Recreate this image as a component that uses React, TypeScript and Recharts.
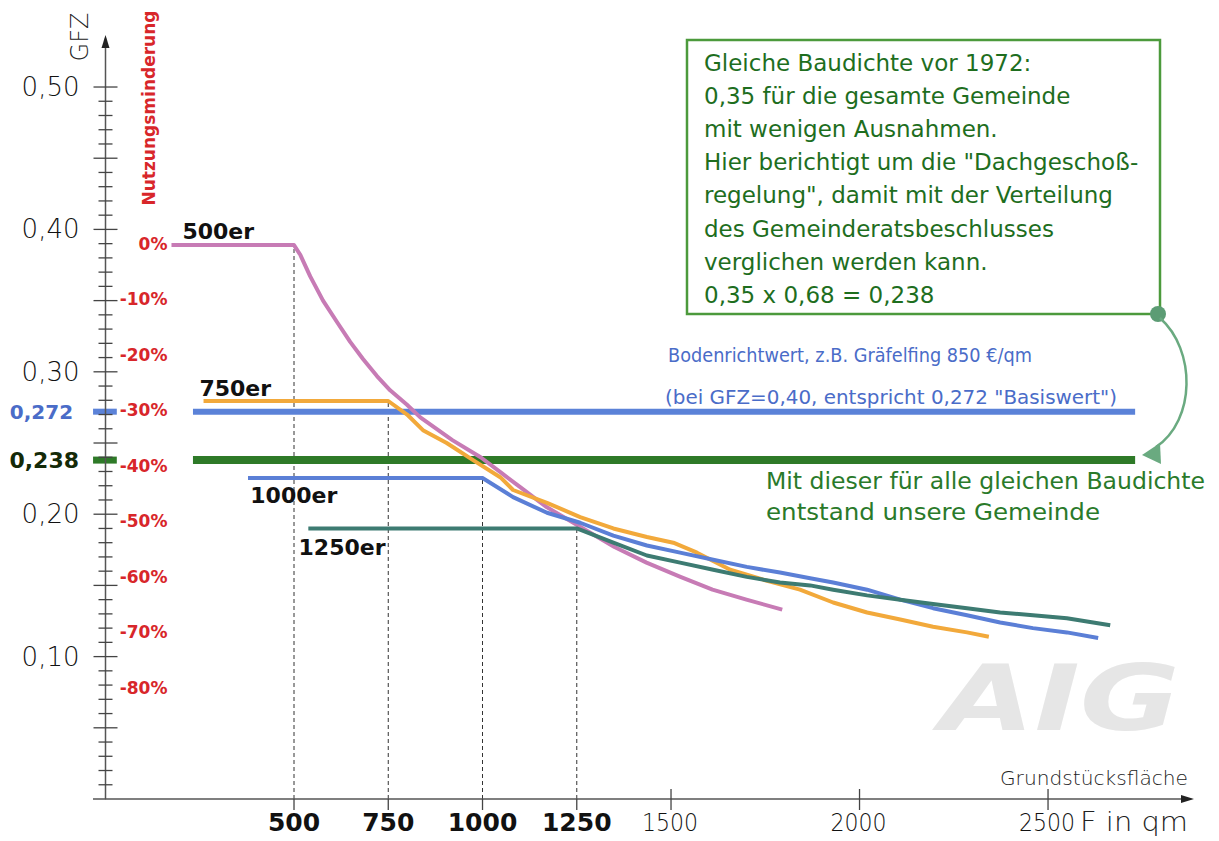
import React from 'react';
import { ComposedChart, Line, XAxis, YAxis, ReferenceLine, ReferenceDot } from 'recharts';

const FONT = '"DejaVu Sans", sans-serif';
const W = 1219;
const H = 841;

// Grundstücksfläche in qm / GFZ der einzelnen Kurven
const qm500 = [175, 500, 517, 543, 577, 614, 649, 683, 720, 755, 799, 835, 920, 995, 1050, 1100, 1170, 1260, 1350, 1435, 1525, 1610, 1700, 1795];
const gfz500 = [0.389, 0.389, 0.382, 0.367, 0.35, 0.335, 0.321, 0.309, 0.297, 0.287, 0.277, 0.268, 0.252, 0.24, 0.229, 0.219, 0.205, 0.191, 0.177, 0.166, 0.156, 0.147, 0.14, 0.133];

const qm750 = [260, 750, 800, 842, 905, 975, 1047, 1081, 1171, 1259, 1347, 1436, 1506, 1569, 1657, 1745, 1842, 1930, 2020, 2108, 2195, 2285, 2343];
const gfz750 = [0.2795, 0.2795, 0.27, 0.259, 0.25, 0.238, 0.226, 0.217, 0.208, 0.198, 0.19, 0.184, 0.18, 0.173, 0.161, 0.154, 0.147, 0.138, 0.131, 0.126, 0.121, 0.117, 0.114];

const qm1000 = [378, 1000, 1081, 1171, 1259, 1347, 1436, 1524, 1612, 1701, 1789, 1869, 1930, 2020, 2108, 2195, 2285, 2373, 2460, 2550, 2633];
const gfz1000 = [0.2254, 0.2254, 0.212, 0.201, 0.194, 0.185, 0.178, 0.173, 0.168, 0.163, 0.159, 0.155, 0.152, 0.147, 0.14, 0.134, 0.129, 0.124, 0.12, 0.117, 0.113];

const qm1250 = [538, 1250, 1347, 1436, 1524, 1612, 1701, 1789, 1869, 1930, 2020, 2108, 2195, 2285, 2373, 2460, 2550, 2665];
const gfz1250 = [0.19, 0.19, 0.18, 0.171, 0.166, 0.161, 0.156, 0.152, 0.15, 0.147, 0.143, 0.14, 0.137, 0.134, 0.131, 0.129, 0.127, 0.122];

// Bodenrichtwert-Basis und einheitliche Baudichte
const basisGfz = 0.272;
const gemeindeGfz = 0.238;
const levelQm = [232, 2731];

// Achsen
const xTicks = [500, 750, 1000, 1250, 1500, 2000, 2500];
const xBoldTicks = [500, 750, 1000, 1250];
const gfzTicks = [
  0.01, 0.02, 0.03, 0.04, 0.05, 0.06, 0.07, 0.08, 0.09, 0.1,
  0.11, 0.12, 0.13, 0.14, 0.15, 0.16, 0.17, 0.18, 0.19, 0.2,
  0.21, 0.22, 0.23, 0.24, 0.25, 0.26, 0.27, 0.28, 0.29, 0.3,
  0.31, 0.32, 0.33, 0.34, 0.35, 0.36, 0.37, 0.38, 0.39, 0.4,
  0.41, 0.42, 0.43, 0.44, 0.45, 0.46, 0.47, 0.48, 0.49, 0.5,
];
// Nutzungsminderung bezogen auf GFZ 0,39 (0%)
const pctBase = 0.39;
const pctTicks = [0, -10, -20, -30, -40, -50, -60, -70, -80];

const boxLines = [
  'Gleiche Baudichte vor 1972:',
  '0,35 für die gesamte Gemeinde',
  'mit wenigen Ausnahmen.',
  'Hier berichtigt um die "Dachgeschoß-',
  'regelung", damit mit der Verteilung',
  'des Gemeinderatsbeschlusses',
  'verglichen werden kann.',
  '0,35 x 0,68 = 0,238',
];

const toPoints = (xs: number[], ys: number[]) => xs.map((qm, i) => ({ qm, gfz: ys[i] }));

const series = [
  { key: '500er', qm: qm500, gfz: gfz500, color: '#c77bb5', labelQm: 204, dy: -6 },
  { key: '750er', qm: qm750, gfz: gfz750, color: '#f2a93b', labelQm: 249, dy: -5 },
  { key: '1000er', qm: qm1000, gfz: gfz1000, color: '#5b7fd6', labelQm: 384, dy: 25 },
  { key: '1250er', qm: qm1250, gfz: gfz1250, color: '#3d7b72', labelQm: 512, dy: 27 },
];

const GfzTick = (props: any) => {
  const { x, y, payload } = props;
  const v = Math.round(payload.value * 100);
  const major = v % 5 === 0;
  const half = major ? 12 : 7;
  return (
    <g>
      <line x1={x - half} x2={x + half} y1={y} y2={y} stroke="#444" strokeWidth={1.3} />
      {v % 10 === 0 && (
        <text x={x - 26} y={y} textAnchor="end" dominantBaseline="central" fontFamily={FONT} fontSize={26} fontWeight={200} fill="#111">
          {payload.value.toFixed(2).replace('.', ',')}
        </text>
      )}
    </g>
  );
};

const QmTick = (props: any) => {
  const { x, y, payload } = props;
  const bold = xBoldTicks.includes(payload.value);
  return (
    <g>
      <line x1={x} x2={x} y1={bold ? y : y - 10} y2={y + 11} stroke="#444" strokeWidth={1.3} />
      <text
        x={bold ? x : x - 1}
        y={y + 32}
        textAnchor="middle"
        fontFamily={FONT}
        fontSize={bold ? 25 : 24}
        fontWeight={bold ? 'bold' : 200}
        fill="#111"
        textLength={bold ? undefined : 56}
        lengthAdjust="spacingAndGlyphs"
      >
        {payload.value}
      </text>
    </g>
  );
};

export default function App() {
  return (
    <div style={{ position: 'absolute', left: 0, top: 0, width: W, height: H, background: '#fff' }}>
      <ComposedChart width={W} height={H} margin={{ top: 38.6, right: 27.7, left: 0, bottom: 0 }}>
        <XAxis
          dataKey="qm"
          type="number"
          domain={[0, 2880]}
          allowDataOverflow
          ticks={xTicks}
          interval={0}
          height={42}
          tickSize={0}
          tickMargin={0}
          tickLine={false}
          axisLine={{ stroke: '#555', strokeWidth: 1.5 }}
          tick={<QmTick />}
        />
        <YAxis
          type="number"
          domain={[0, 0.534]}
          allowDataOverflow
          ticks={gfzTicks}
          interval={0}
          width={105.5}
          tickSize={0}
          tickMargin={0}
          tickLine={false}
          axisLine={{ stroke: '#555', strokeWidth: 1.5 }}
          tick={<GfzTick />}
        />

        {xBoldTicks.map((q, i) => (
          <ReferenceLine
            key={q}
            segment={[{ x: q, y: 0 }, { x: q, y: series[i].gfz[1] }]}
            stroke="#333"
            strokeWidth={1}
            strokeDasharray="4 3"
          />
        ))}

        {pctTicks.map((p) => (
          <ReferenceLine
            key={p}
            y={pctBase * (1 + p / 100)}
            stroke="none"
            label={(lp: any) => (
              <text x={lp.viewBox.x + 62} y={lp.viewBox.y} textAnchor="end" dominantBaseline="central" fontFamily={FONT} fontSize={17} fontWeight="bold" fill="#d8262a">
                {p}%
              </text>
            )}
          />
        ))}

        <ReferenceLine
          segment={[{ x: -33, y: basisGfz }, { x: 30, y: basisGfz }]}
          ifOverflow="visible"
          stroke="#5b82d8"
          strokeWidth={6}
          label={(lp: any) => (
            <text x={lp.viewBox.x - 20} y={lp.viewBox.y} textAnchor="end" dominantBaseline="central" fontFamily={FONT} fontSize={20} fontWeight="bold" fill="#4a6cc8">
              0,272
            </text>
          )}
        />
        <ReferenceLine
          segment={[{ x: -33, y: gemeindeGfz }, { x: 30, y: gemeindeGfz }]}
          ifOverflow="visible"
          stroke="#2e7a28"
          strokeWidth={7}
          label={(lp: any) => (
            <text x={lp.viewBox.x - 14} y={lp.viewBox.y} textAnchor="end" dominantBaseline="central" fontFamily={FONT} fontSize={22} fontWeight="bold" fill="#142a08">
              0,238
            </text>
          )}
        />

        <Line
          data={levelQm.map((qm) => ({ qm, gfz: basisGfz }))}
          dataKey="gfz"
          stroke="#5b82d8"
          strokeWidth={6}
          dot={false}
          isAnimationActive={false}
        />
        <Line
          data={levelQm.map((qm) => ({ qm, gfz: gemeindeGfz }))}
          dataKey="gfz"
          stroke="#2e7a28"
          strokeWidth={8}
          dot={false}
          isAnimationActive={false}
        />

        {series.map((s) => (
          <Line
            key={s.key}
            data={toPoints(s.qm, s.gfz)}
            dataKey="gfz"
            name={s.key}
            type="linear"
            stroke={s.color}
            strokeWidth={4}
            strokeLinejoin="round"
            dot={false}
            isAnimationActive={false}
          />
        ))}

        {series.map((s) => (
          <ReferenceDot
            key={s.key}
            x={s.labelQm}
            y={s.gfz[0]}
            r={0}
            fill="none"
            stroke="none"
            label={(lp: any) => (
              <text x={lp.viewBox.x} y={lp.viewBox.y + s.dy} fontFamily={FONT} fontSize={22} fontWeight="bold" fill="#111">
                {s.key}
              </text>
            )}
          />
        ))}
      </ComposedChart>

      <svg width={W} height={H} style={{ position: 'absolute', left: 0, top: 0, pointerEvents: 'none' }}>
        <line x1={93} y1={799} x2={106} y2={799} stroke="#555" strokeWidth={1.5} />
        <polygon points="105.5,35 101.5,48 109.5,48" fill="#222" />
        <polygon points="1194,799 1181,795 1181,803" fill="#222" />

        <text transform="translate(88,37) rotate(-90)" textAnchor="middle" fontFamily={FONT} fontSize={24} fontWeight={200} fill="#222">
          GFZ
        </text>
        <text transform="translate(155,108) rotate(-90)" textAnchor="middle" fontFamily={FONT} fontSize={18} fontWeight="bold" fill="#d8262a" textLength={195} lengthAdjust="spacingAndGlyphs">
          Nutzungsminderung
        </text>

        <rect x={687} y={40} width={473} height={274} fill="none" stroke="#4c9a3c" strokeWidth={2.5} />
        {boxLines.map((t, i) => (
          <text key={i} x={704} y={71 + i * 33.1} fontFamily={FONT} fontSize={23} fill="#1e6e1e">
            {t}
          </text>
        ))}
        <circle cx={1158} cy={314} r={8} fill="#5c9c74" />
        <path d="M1160,318 C1196,350 1196,420 1156,447" fill="none" stroke="#6aaa80" strokeWidth={2.5} />
        <polygon points="1142,455 1160,443 1161,464" fill="#6aaa80" />

        <text x={668} y={362} fontFamily={FONT} fontSize={19} fill="#4a6cc8" textLength={364} lengthAdjust="spacingAndGlyphs">
          Bodenrichtwert, z.B. Gräfelfing 850 €/qm
        </text>
        <text x={665} y={404} fontFamily={FONT} fontSize={19} fill="#4a6cc8" textLength={452} lengthAdjust="spacingAndGlyphs">
          (bei GFZ=0,40, entspricht 0,272 "Basiswert")
        </text>
        <text x={766} y={489} fontFamily={FONT} fontSize={23} fill="#2a7a2a" textLength={439} lengthAdjust="spacingAndGlyphs">
          Mit dieser für alle gleichen Baudichte
        </text>
        <text x={766} y={520} fontFamily={FONT} fontSize={23} fill="#2a7a2a" textLength={334} lengthAdjust="spacingAndGlyphs">
          entstand unsere Gemeinde
        </text>

        <text x={1000} y={785} fontFamily={FONT} fontSize={20} fontWeight={200} fill="#222" textLength={188} lengthAdjust="spacingAndGlyphs">
          Grundstücksfläche
        </text>
        <text x={1080} y={831} fontFamily={FONT} fontSize={26} fontWeight={200} fill="#222" textLength={108} lengthAdjust="spacingAndGlyphs">
          F in qm
        </text>

        <text x={940} y={730} fontFamily={FONT} fontSize={90} fontWeight="bold" fontStyle="italic" fill="#e6e6e6" textLength={240} lengthAdjust="spacingAndGlyphs">
          AIG
        </text>
      </svg>
    </div>
  );
}
